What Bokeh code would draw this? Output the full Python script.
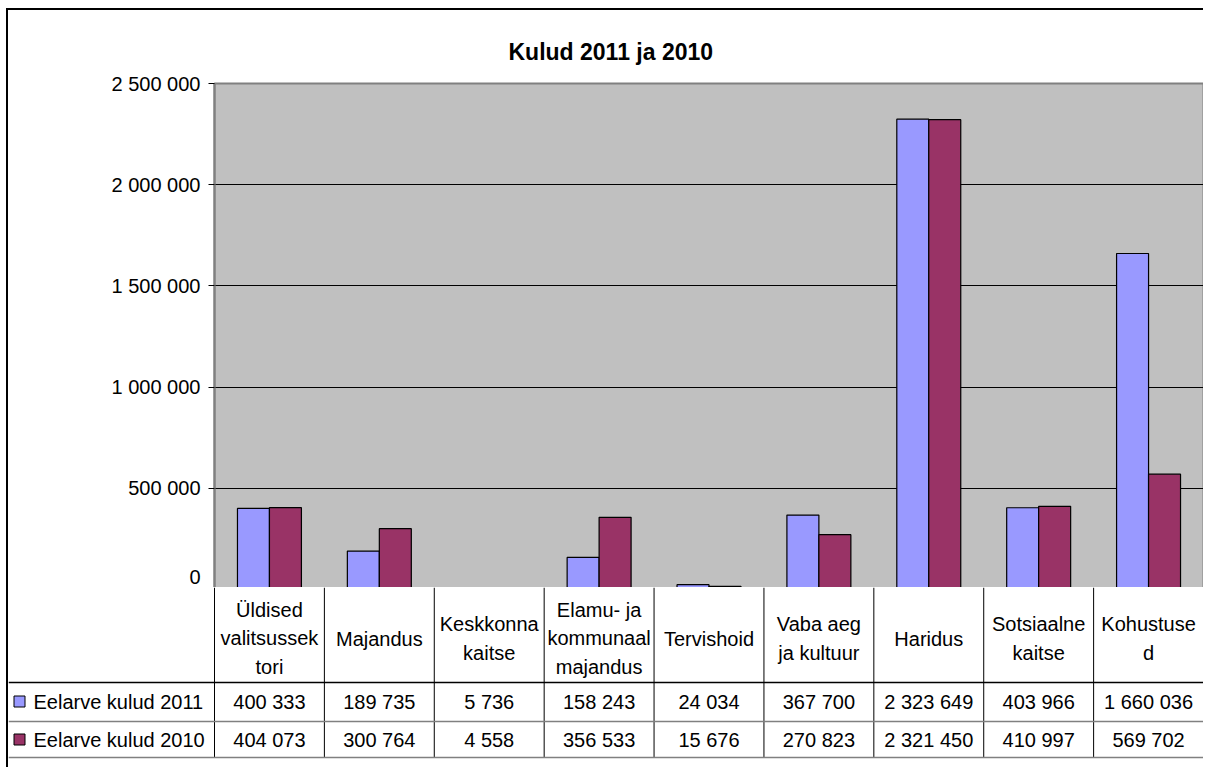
from bokeh.plotting import figure
from bokeh.models import Range1d, ColumnDataSource, CustomJSTickFormatter, FixedTicker, Span
from bokeh.embed import file_html
from bokeh.resources import INLINE
from bokeh.core.properties import value
from bokeh.transform import dodge

# ---------------- data ----------------
title_text = "Kulud 2011 ja 2010"
categories = ["Üldised\nvalitsussek\ntori", "Majandus", "Keskkonna\nkaitse",
              "Elamu- ja\nkommunaal\nmajandus", "Tervishoid", "Vaba aeg\nja kultuur",
              "Haridus", "Sotsiaalne\nkaitse", "Kohustuse\nd"]
series_names = ["Eelarve kulud 2011", "Eelarve kulud 2010"]
kulud_2011 = [400333, 189735, 5736, 158243, 24034, 367700, 2323649, 403966, 1660036]
kulud_2010 = [404073, 300764, 4558, 356533, 15676, 270823, 2321450, 410997, 569702]
y_ticks = [0, 500000, 1000000, 1500000, 2000000, 2500000]
colors = ["#9999FF", "#993366"]

FONT = "Liberation Sans"

# ---------------- layout constants ----------------
W = 1197
H1 = 579
H2 = 180
ML, MR, MT = 206, 2, 73
n = len(categories)
u = (W - ML - MR) / n          # px per category unit

def fmt(v):
    return f"{v:,}".replace(",", " ")

xs = [i + 0.5 for i in range(n)]
src = ColumnDataSource(dict(x=xs, v2011=kulud_2011, v2010=kulud_2010))

# ---------------- chart ----------------
p1 = figure(width=W, height=H1, x_range=Range1d(0, n), y_range=Range1d(y_ticks[0], y_ticks[-1]),
            x_axis_type=None, output_backend="svg", toolbar_location=None,
            min_border_left=ML, min_border_right=MR, min_border_top=MT, min_border_bottom=0,
            background_fill_color="#C0C0C0", border_fill_color="white",
            outline_line_color="#808080", outline_line_width=2,
            styles={"margin-left": "6px", "margin-top": "8px",
                    "border-left": "2px solid black", "border-top": "2px solid black"})
p1.title.text = title_text
p1.title.text_font = FONT
p1.title.text_font_size = "23px"
p1.title.text_font_style = "bold"
p1.title.text_color = "black"
p1.title.align = "left"
p1.title.offset = 294
p1.title.standoff = 37

ax = p1.yaxis[0]
ax.ticker = FixedTicker(ticks=y_ticks)
ax.formatter = CustomJSTickFormatter(code=r'return tick.toFixed(0).replace(/\B(?=(\d{3})+(?!\d))/g, " ");')
ax.major_label_text_font = FONT
ax.major_label_text_font_size = "20px"
ax.major_label_text_color = "black"
ax.major_tick_out = 6
ax.major_tick_in = 0
ax.major_tick_line_color = "black"
ax.minor_tick_line_color = None
ax.axis_line_color = "#808080"
ax.axis_line_width = 2
ax.major_label_standoff = 8

p1.xgrid.grid_line_color = None
p1.ygrid.grid_line_color = "black"
p1.ygrid.grid_line_width = 1

bw = 0.291
p1.vbar(x=dodge("x", -bw / 2, range=p1.x_range), top="v2011", width=bw, source=src,
        fill_color=colors[0], line_color="black", line_width=1.2)
p1.vbar(x=dodge("x", bw / 2, range=p1.x_range), top="v2010", width=bw, source=src,
        fill_color=colors[1], line_color="black", line_width=1.2)
p1.add_layout(Span(location=0, dimension="width", line_color="black", line_width=2))

# ---------------- data table ----------------
x0 = -ML / u
x1 = n + MR / u
p2 = figure(width=W, height=H2, x_range=Range1d(x0, x1), y_range=Range1d(H2, 0),
            x_axis_type=None, y_axis_type=None, min_border=0,
            output_backend="svg", toolbar_location=None,
            outline_line_color=None, background_fill_color="white", border_fill_color="white",
            styles={"margin-left": "6px", "border-left": "2px solid black"})
p2.xgrid.grid_line_color = None
p2.ygrid.grid_line_color = None

row_lines = [95, 134, 170]
# vertical lines
p2.segment(x0=list(range(n + 1)), y0=[0] * (n + 1), x1=list(range(n + 1)), y1=[row_lines[-1]] * (n + 1),
           line_color="black", line_width=1)
# horizontal lines
p2.segment(x0=[x0] * 3, y0=row_lines, x1=[n] * 3, y1=row_lines,
           line_color=["black", "#808080", "#808080"], line_width=[1.3, 1.5, 1.5])

# header labels
p2.text(x=xs, y=[51] * n, text=categories, text_align="center", text_baseline="middle",
        text_font=value(FONT), text_font_size="20px", text_line_height=1.3, text_color="black")

row_y = [114, 152]
for vals, yy in zip([kulud_2011, kulud_2010], row_y):
    p2.text(x=xs, y=[yy] * n, text=[fmt(v) for v in vals], text_align="center", text_baseline="middle",
            text_font=value(FONT), text_font_size="20px", text_color="black")

# legend keys
p2.scatter(x=[x0 + 11 / u] * 2, y=row_y, marker="square", size=11,
           fill_color=colors, line_color="black", line_width=1)
p2.text(x=[x0 + 25 / u] * 2, y=row_y, text=series_names, text_align="left", text_baseline="middle",
        text_font=value(FONT), text_font_size="20px", text_color="black")

open("out.html", "w").write(file_html([p1, p2], INLINE))
